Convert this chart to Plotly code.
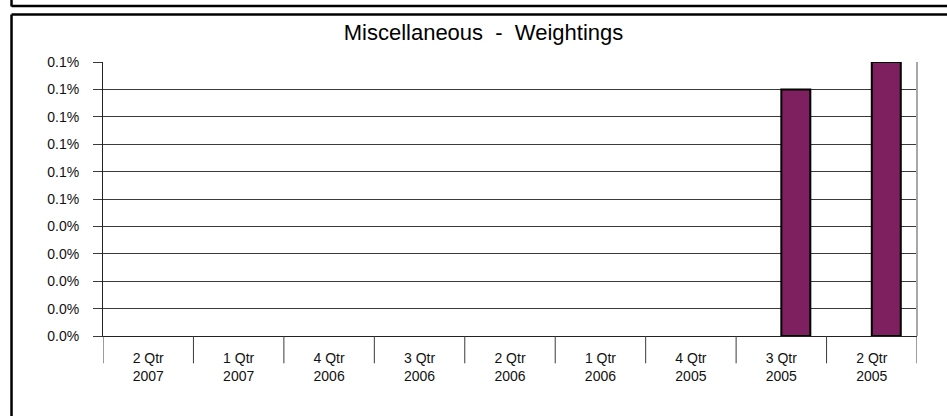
import plotly.graph_objects as go

# ---- data ----
categories = ["2 Qtr<br>2007", "1 Qtr<br>2007", "4 Qtr<br>2006", "3 Qtr<br>2006",
              "2 Qtr<br>2006", "1 Qtr<br>2006", "4 Qtr<br>2005", "3 Qtr<br>2005", "2 Qtr<br>2005"]
series_blank = [None] * 9
weightings = [0, 0, 0, 0, 0, 0, 0, 0.09, 0.10]  # percent
y_tickvals = [0.00, 0.01, 0.02, 0.03, 0.04, 0.05, 0.06, 0.07, 0.08, 0.09, 0.10]
y_ticktext = ["0.0%", "0.0%", "0.0%", "0.0%", "0.0%", "0.1%", "0.1%", "0.1%", "0.1%", "0.1%", "0.1%"]
title_text = "Miscellaneous  -  Weightings"

W, H = 947, 416
L, R, T, B = 102.5, 916.7, 62, 335.7
pw, ph = R - L, B - T

def px_x(x):
    return (x - L) / pw

def px_y(y):
    return (B - y) / ph

font = "Liberation Sans, Arial, sans-serif"
bar_color = "#7E2060"

fig = go.Figure()
fig.add_trace(go.Bar(x=list(range(9)), y=series_blank, marker_color=bar_color, showlegend=False,
                     hoverinfo="skip"))
fig.add_trace(go.Bar(x=list(range(9)), y=weightings, marker_color=bar_color,
                     marker_line_color="black",
                     marker_line_width=[2 if v > 0 else 0 for v in weightings],
                     showlegend=False))

shapes = []
# category separator ticks below axis
for i in range(10):
    shapes.append(dict(type="line", xref="x", yref="paper", x0=i - 0.5, x1=i - 0.5,
                       y0=0, y1=px_y(363), line=dict(color="#3a3a3a", width=1)))
# right plot border (gray)
shapes.append(dict(type="line", xref="paper", yref="paper", x0=1, x1=1, y0=0, y1=1,
                   line=dict(color="#a8a8a8", width=2)))
# outer frames
fw = 2.5
shapes.append(dict(type="line", xref="paper", yref="paper", x0=px_x(11), x1=px_x(11),
                   y0=px_y(-2), y1=px_y(6.5), line=dict(color="black", width=fw)))
shapes.append(dict(type="line", xref="paper", yref="paper", x0=px_x(11), x1=px_x(960),
                   y0=px_y(6), y1=px_y(6), line=dict(color="black", width=fw)))
shapes.append(dict(type="line", xref="paper", yref="paper", x0=px_x(11), x1=px_x(960),
                   y0=px_y(14.5), y1=px_y(14.5), line=dict(color="black", width=fw)))
shapes.append(dict(type="line", xref="paper", yref="paper", x0=px_x(11), x1=px_x(11),
                   y0=px_y(14.5), y1=px_y(430), line=dict(color="black", width=fw)))

fig.update_layout(
    width=W, height=H,
    margin=dict(l=L, r=W - R, t=T, b=H - B, pad=0),
    paper_bgcolor="white", plot_bgcolor="white",
    barmode="group", bargap=0.359, bargroupgap=0,
    title=dict(text=title_text, x=483.5 / W, xanchor="center", y=1 - 32 / H, yanchor="middle",
               yref="container", xref="container",
               font=dict(family=font, size=22, color="black")),
    font=dict(family=font, color="black"),
    shapes=shapes,
)
fig.update_xaxes(
    tickmode="array", tickvals=list(range(9)), ticktext=categories,
    range=[-0.5, 8.5], showgrid=False, ticks="", showline=True, linecolor="#222222", linewidth=1,
    tickfont=dict(family=font, size=14, color="#111111"), ticklabelstandoff=9,
    zeroline=False,
)
fig.update_yaxes(
    range=[0, 0.1], tickmode="array", tickvals=y_tickvals, ticktext=y_ticktext,
    showgrid=True, gridcolor="#3a3a3a", gridwidth=1,
    ticks="outside", ticklen=9, tickcolor="#3a3a3a", showline=True, linecolor="#222222",
    linewidth=1, tickfont=dict(family=font, size=14, color="#111111"), ticklabelstandoff=11,
    zeroline=False,
)
fig.write_html("out.html", config={"displayModeBar": False},
               post_script="document.body.style.margin='0';document.body.style.overflow='hidden';")
